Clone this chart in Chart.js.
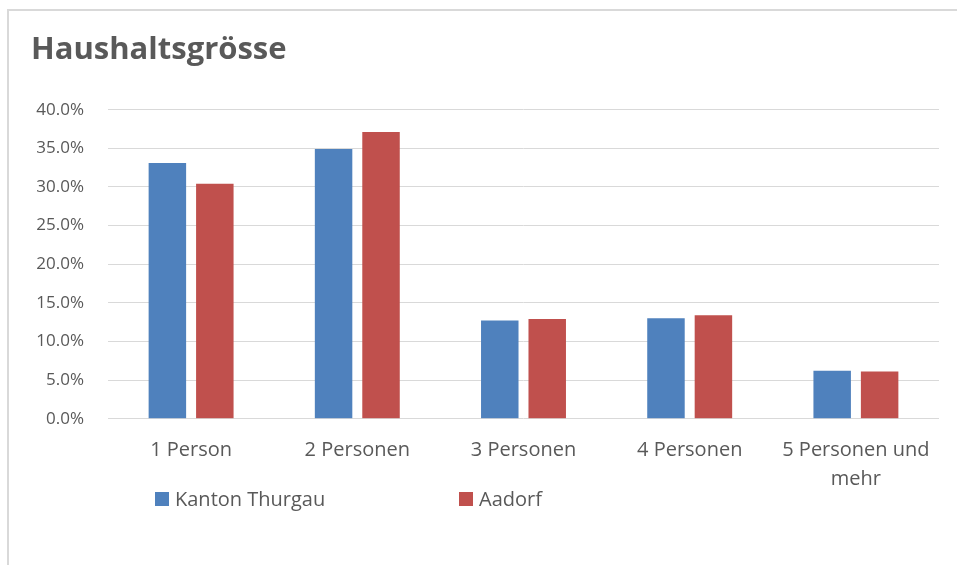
<!DOCTYPE html>
<html lang="de">
<head>
    <meta charset="UTF-8">
    <title>Haushaltsgrösse</title>
    <script src="https://cdn.jsdelivr.net/npm/chart.js"></script>
    <style>
      body { margin: 0; background: #fff; font-family: 'Open Sans', 'Noto Sans', sans-serif; }
      #box { position: absolute; left: 7px; top: 9px; border-top: 2px solid #d9d9d9; border-left: 2px solid #d9d9d9; }
      canvas { display: block; }
      #legend { position: absolute; top: 487px; left: 0; margin: 0; padding: 0; list-style: none; }
      #legend li { position: absolute; white-space: nowrap; font-size: 20px; line-height: 24px; color: #595959; }
      #legend span { position: absolute; top: 5px; width: 14px; height: 14px; }
    </style>
</head>
<body>
    <div id="box">
        <canvas id="myChart" width="948" height="554"></canvas>
    </div>
    <ul id="legend"></ul>

<script>
// data
const categories = ['1 Person', '2 Personen', '3 Personen', '4 Personen', ['5 Personen und', 'mehr']];
const kantonThurgau = [33.1, 34.9, 12.7, 13.0, 6.2];
const aadorf = [30.4, 37.1, 12.9, 13.4, 6.1];
const seriesNames = ['Kanton Thurgau', 'Aadorf'];
const seriesColors = ['#4F81BD', '#C0504D'];

const textColor = '#595959';
const fontName = "'Open Sans', 'Noto Sans', sans-serif";

const data = {
  labels: categories,
  datasets: [{
    label: seriesNames[0],
    backgroundColor: seriesColors[0],
    data: kantonThurgau,
    categoryPercentage: 0.571,
    barPercentage: 0.79
  }, {
    label: seriesNames[1],
    backgroundColor: seriesColors[1],
    data: aadorf,
    categoryPercentage: 0.571,
    barPercentage: 0.79
  }]
};

const config = {
  type: 'bar',
  data: data,
  options: {
    responsive: false,
    animation: false,
    devicePixelRatio: 1,
    layout: { padding: { left: 22, right: 18, top: 0, bottom: 66.3 } },
    plugins: {
      tooltip: { enabled: false },
      legend: { display: false },
      title: {
        display: true,
        text: 'Haushaltsgrösse',
        align: 'start',
        color: textColor,
        font: { family: fontName, size: 31, weight: 'bold' },
        padding: { top: 21, bottom: 40.5 }
      }
    },
    scales: {
      x: {
        grid: { display: false },
        border: { display: false },
        ticks: {
          color: textColor,
          font: { family: fontName, size: 20, lineHeight: 1.45 },
          padding: 9,
          maxRotation: 0,
          autoSkip: false
        },
        afterFit: function(scale) { scale.height = 80; }
      },
      y: {
        min: 0,
        max: 40,
        border: { display: false },
        grid: { color: '#d9d9d9', lineWidth: 1, drawTicks: false },
        ticks: {
          stepSize: 5,
          color: textColor,
          font: { family: fontName, size: 17 },
          padding: 24,
          callback: function(v) { return v.toFixed(1) + '%'; }
        },
        afterFit: function(scale) { scale.width = 77; }
      }
    }
  }
};

const myChart = new Chart(document.getElementById('myChart'), config);

// html legend built from the chart's own legend items, spaced like the Excel original
const legendX = [155, 459];
const legendEl = document.getElementById('legend');
myChart.options.plugins.legend.labels.generateLabels(myChart).forEach(function(item, i) {
  const li = document.createElement('li');
  li.style.left = legendX[i] + 'px';
  li.style.paddingLeft = '20px';
  const sw = document.createElement('span');
  sw.style.left = '0px';
  sw.style.background = item.fillStyle;
  li.appendChild(sw);
  li.appendChild(document.createTextNode(item.text));
  legendEl.appendChild(li);
});
</script>
</body>
</html>
